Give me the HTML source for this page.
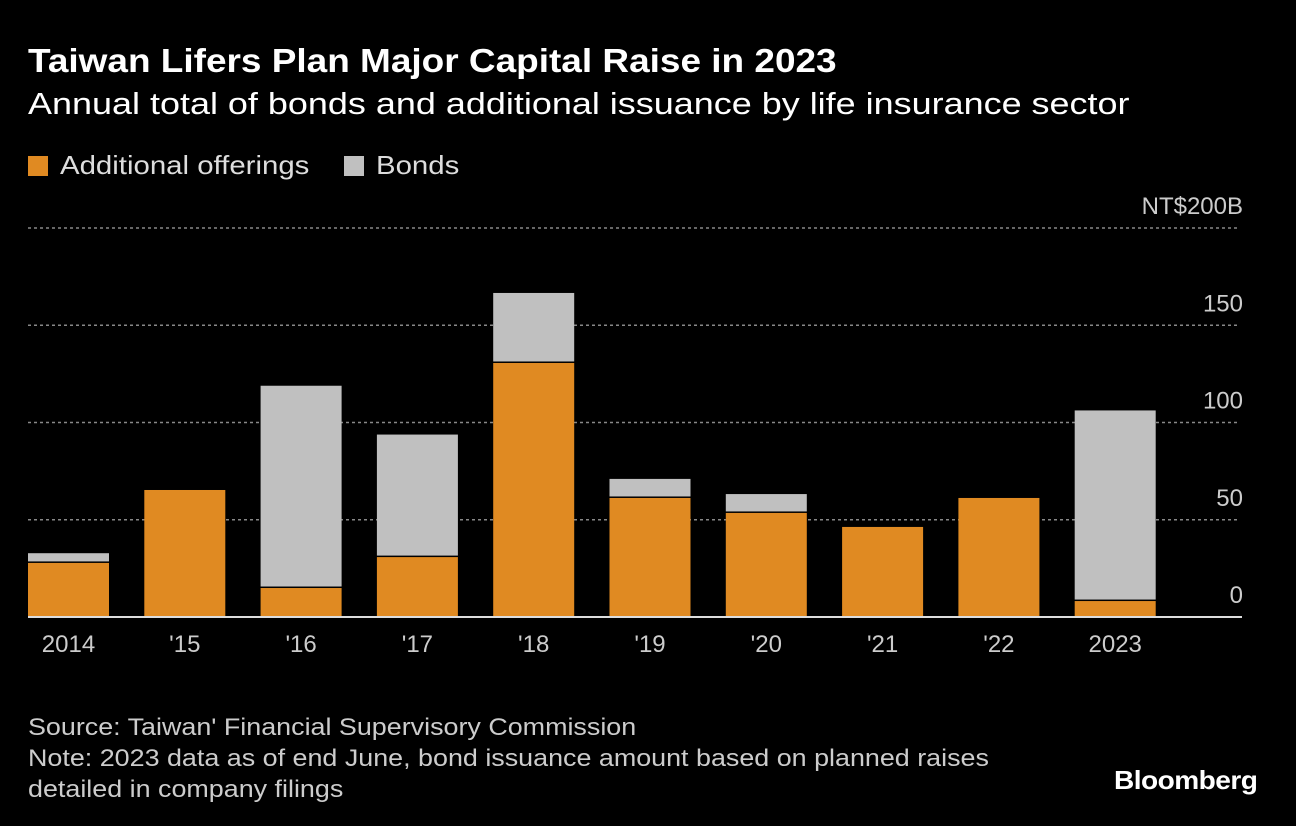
<!DOCTYPE html>
<html><head><meta charset="utf-8"><style>
body{margin:0;background:#000;width:1296px;height:826px;overflow:hidden;font-family:"Liberation Sans",sans-serif;color:#fff}
.t{position:absolute;white-space:nowrap;transform-origin:0 0}
</style></head><body>
<div class="t" style="left:28px;top:42px;font-size:33px;font-weight:bold;transform:scaleX(1.12)">Taiwan Lifers Plan Major Capital Raise in 2023</div>
<div class="t" style="left:28px;top:86px;font-size:31px;transform:scaleX(1.16)">Annual total of bonds and additional issuance by life insurance sector</div>
<div class="t" style="left:28px;top:150px;font-size:26px;color:#ddd"><span style="display:inline-block;width:20px;height:20px;background:#e08a22;vertical-align:-2px;margin-right:12px"></span><span style="display:inline-block;transform:scaleX(1.13);transform-origin:0 0">Additional offerings</span></div>
<div class="t" style="left:344px;top:150px;font-size:26px;color:#ddd"><span style="display:inline-block;width:20px;height:20px;background:#c0c0c0;vertical-align:-2px;margin-right:12px"></span><span style="display:inline-block;transform:scaleX(1.13);transform-origin:0 0">Bonds</span></div>
<svg id="c" width="1296" height="826" style="position:absolute;left:0;top:0"></svg>
<div class="t" style="left:28px;top:712px;font-size:24px;color:#ccc;line-height:31px;transform:scaleX(1.12)">Source: Taiwan' Financial Supervisory Commission<br>Note: 2023 data as of end June, bond issuance amount based on planned raises<br>detailed in company filings</div>
<div class="t" style="left:1114px;top:765px;font-size:26px;font-weight:bold;letter-spacing:-0.5px;transform:scaleX(1.08)">Bloomberg</div>
<script>
const categories=["2014","'15","'16","'17","'18","'19","'20","'21","'22","2023"];
const offerings=[27.8,65.3,14.9,30.8,130.6,61.2,53.5,46.3,61.2,8.2];
const bonds=[5,0,104,63,36,9.8,9.7,0,0,98];
const ticks=[0,50,100,150,200];
const tickLabels=["0","50","100","150","NT$200B"];
const svg=document.getElementById('c');const NS="http://www.w3.org/2000/svg";
const y=v=>617-v*1.945;
const x=i=>28+i*116.3;
const bw=81;
function mk(t,a){const e=document.createElementNS(NS,t);for(const k in a)e.setAttribute(k,a[k]);svg.appendChild(e);return e;}
ticks.forEach((v,i)=>{
 if(v>0){const l=mk('line',{x1:28,x2:1240,y1:y(v),y2:y(v),stroke:'#888','stroke-dasharray':'3,3','stroke-width':1.5});
 }
 const t=mk('text',{x:1243,y:y(v)-14,'text-anchor':'end','font-size':24,fill:'#ccc','font-family':'Liberation Sans'});
 t.textContent=tickLabels[i];
 
});
categories.forEach((c,i)=>{
 const o=mk('rect',{x:x(i),y:y(offerings[i]),width:bw,height:617-y(offerings[i]),fill:'#e08a22'});
 
 if(bonds[i]>0){const b=mk('rect',{x:x(i),y:y(offerings[i]+bonds[i]),width:bw,height:bonds[i]*1.945-1.5,fill:'#c0c0c0'});
 }
 const t=mk('text',{x:x(i)+bw/2,y:652,'text-anchor':'middle','font-size':24,fill:'#ccc','font-family':'Liberation Sans'});
 t.textContent=c;
});
const a=mk('line',{x1:28,x2:1242,y1:617,y2:617,stroke:'#ddd','stroke-width':2});

</script>
</body></html>
